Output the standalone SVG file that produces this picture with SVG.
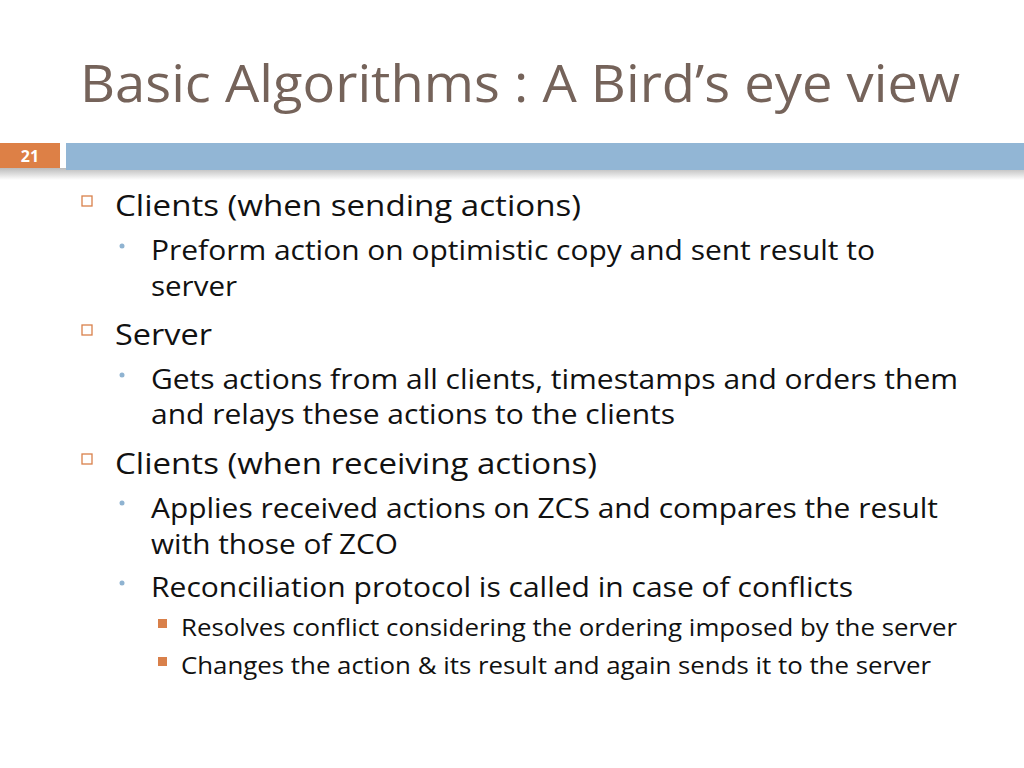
<svg xmlns="http://www.w3.org/2000/svg" width="1024" height="768" viewBox="0 0 1024 768">
<defs><linearGradient id="sh" x1="0" y1="0" x2="0" y2="1"><stop offset="0" stop-color="#bbb"/><stop offset="1" stop-color="#fff"/></linearGradient></defs>
<style>
text{font-family:"Open Sans","Noto Sans","DejaVu Sans",sans-serif;fill:#111}
.l1{font-size:30px}.l2{font-size:27px}.l3{font-size:23px}
.b1{fill:none;stroke:#d9804a;stroke-width:1.3}
.b2{fill:#8fb3d1}.b3{fill:#d9804a}
</style>
<rect width="1024" height="768" fill="#fff"/>
<text x="80" y="102" textLength="880" lengthAdjust="spacingAndGlyphs" style="font-size:51px;fill:#75635a">Basic Algorithms : A Bird’s eye view</text>
<rect x="0" y="168" width="1024" height="12" fill="url(#sh)"/>
<rect x="0" y="143" width="60" height="25" fill="#dd8046"/>
<rect x="66" y="143" width="958" height="27" fill="#92b6d5"/>
<text x="30" y="162" text-anchor="middle" style="font-size:16px;font-weight:bold;fill:#fff">21</text>
<rect class="b1" x="82" y="196" width="10" height="10"/>
<text class="l1" x="115" y="216" textLength="466" lengthAdjust="spacingAndGlyphs">Clients (when sending actions)</text>
<circle class="b2" cx="122" cy="246" r="2.5"/>
<text class="l2" x="151" y="260" textLength="724" lengthAdjust="spacingAndGlyphs">Preform action on optimistic copy and sent result to</text>
<text class="l2" x="151" y="296" textLength="86" lengthAdjust="spacingAndGlyphs">server</text>
<rect class="b1" x="82" y="325" width="10" height="10"/>
<text class="l1" x="115" y="345" textLength="97" lengthAdjust="spacingAndGlyphs">Server</text>
<circle class="b2" cx="122" cy="375" r="2.5"/>
<text class="l2" x="151" y="389" textLength="807" lengthAdjust="spacingAndGlyphs">Gets actions from all clients, timestamps and orders them</text>
<text class="l2" x="151" y="424" textLength="524" lengthAdjust="spacingAndGlyphs">and relays these actions to the clients</text>
<rect class="b1" x="82" y="454" width="10" height="10"/>
<text class="l1" x="115" y="474" textLength="482" lengthAdjust="spacingAndGlyphs">Clients (when receiving actions)</text>
<circle class="b2" cx="122" cy="503" r="2.5"/>
<text class="l2" x="151" y="518" textLength="787" lengthAdjust="spacingAndGlyphs">Applies received actions on ZCS and compares the result</text>
<text class="l2" x="151" y="554" textLength="247" lengthAdjust="spacingAndGlyphs">with those of ZCO</text>
<circle class="b2" cx="122" cy="583" r="2.5"/>
<text class="l2" x="151" y="597" textLength="702" lengthAdjust="spacingAndGlyphs">Reconciliation protocol is called in case of conflicts</text>
<rect class="b3" x="158" y="619" width="9" height="9"/>
<text class="l3" x="181" y="636" textLength="776" lengthAdjust="spacingAndGlyphs">Resolves conflict considering the ordering imposed by the server</text>
<rect class="b3" x="158" y="657" width="9" height="9"/>
<text class="l3" x="181" y="674" textLength="750" lengthAdjust="spacingAndGlyphs">Changes the action &amp; its result and again sends it to the server</text>
</svg>
